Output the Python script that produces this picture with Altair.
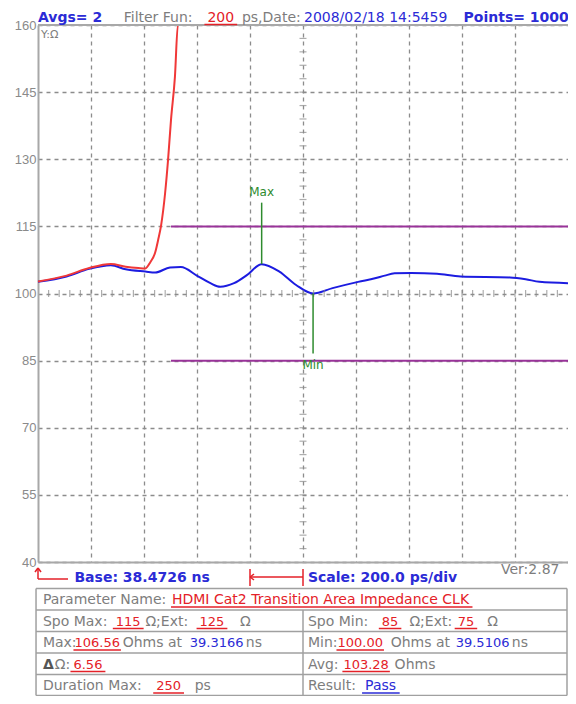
import altair as alt
import pandas as pd

# ---------------- data ----------------
BASE_NS = 38.4726          # Base: 38.4726 ns
DIV_NS = 0.2               # Scale: 200.0 ps/div
N_DIV = 10
T_END = BASE_NS + N_DIV * DIV_NS
Y_TICKS = [40, 55, 70, 85, 100, 115, 130, 145, 160]

# measured impedance (blue)
blue_t = [38.4726, 38.5804, 38.6659, 38.7477, 38.8035, 38.8778, 38.9150, 38.9707,
          39.0116, 39.0748, 39.1232, 39.1603, 39.2124, 39.2607, 39.3166, 39.3834,
          39.4466, 39.5106, 39.5841, 39.6808, 39.7440, 39.7811, 39.8183, 39.8815,
          39.9782, 40.0674, 40.2533, 40.3128, 40.3648, 40.4726]
blue_z = [102.6, 103.8, 105.5, 106.3, 105.4, 104.9, 104.7, 105.8,
          105.9, 103.9, 102.3, 101.5, 102.3, 104.1, 106.56, 104.9,
          101.9, 100.0, 101.2, 102.6, 103.4, 104.0, 104.5, 104.6,
          104.4, 103.8, 103.6, 103.2, 102.6, 102.3]

# second trace (red), clipped at the top of the screen
red_t = [38.4726, 38.5804, 38.6659, 38.7477, 38.8035, 38.8518, 38.8778, 38.8964,
         38.9150, 38.9261, 38.9373, 38.9522, 38.9633, 38.9745, 38.9893, 39.0005, 40.4726]
red_z = [102.7, 104.0, 105.7, 106.6, 106.0, 105.7, 105.6, 107.0,
         109.2, 112.0, 115.3, 122.4, 129.8, 138.8, 148.4, 160.0, 160.0]

limit_values = [115, 85]
limit_start = 38.9745

marker_t = [39.3166, 39.5106]
marker_z = [106.56, 100.00]
marker_end = [120.3, 86.6]
marker_label_z = [122.6, 84.0]
marker_labels = ["Max", "Min"]

# ---------------- style ----------------
W, H = 530, 537
OX, OY = 38, 25            # page position of plot origin
REF_W = 538                # plot width in the reference screenshot
GRAY_T = "#7d7d7d"
BLUE_T = "#2b2bd6"
RED_T = "#e42128"
GRID = "#8c8c8c"
FRAME = "#a8a8a8"
BLUE_L = "#1c1ce0"
RED_L = "#f03838"
PURPLE = "#993399"
GREEN = "#2e8b2e"
FONT = "DejaVu Sans"
FS = 14
FS_NUM = 13

xs = alt.Scale(domain=[BASE_NS, T_END], nice=False, zero=False)
ys = alt.Scale(domain=[40, 160], nice=False, zero=False)
grid_x = [round(BASE_NS + k * DIV_NS, 4) for k in range(1, N_DIV)]

x_axis = alt.Axis(values=grid_x, grid=True, gridDash=[4, 4], gridColor=GRID, gridWidth=1.3,
                  labels=False, ticks=False, domain=True, domainColor=FRAME, domainWidth=2,
                  title=None)
y_axis = alt.Axis(values=Y_TICKS, grid=True, gridDash=[4, 4], gridColor=GRID, gridWidth=1.3,
                  labelFont="Liberation Sans", labelFontSize=13, labelColor="#8a8a8a",
                  labelPadding=2, ticks=False, tickSize=0, domain=True, domainColor=FRAME,
                  domainWidth=2, title=None, labelFlush=False, labelOverlap=False)

X = alt.X("t:Q", scale=xs, axis=x_axis)
Y = alt.Y("z:Q", scale=ys, axis=y_axis)


def tx(t):
    return (t - BASE_NS) / (T_END - BASE_NS) * W


def hx(x):
    """reference page x -> plot-relative x (horizontal layout squeezed to fit)"""
    return (x - OX) * W / REF_W


# width table (em) for DejaVu Sans regular
CW = {"0": .636, "1": .636, "2": .636, "3": .636, "4": .636, "5": .636, "6": .636,
      "7": .636, "8": .636, "9": .636, ".": .318, " ": .318, "H": .752, "D": .770,
      "M": .863, "I": .295, "C": .698, "a": .613, "t": .392, "T": .611, "r": .411,
      "n": .634, "s": .521, "i": .278, "o": .612, "A": .684, "e": .615, "m": .974,
      "p": .635, "d": .635, "c": .550, "L": .557, "K": .656, "P": .603}


def tw(s, size):
    return sum(CW.get(c, .62) for c in s) * size


# ---------------- curve layers ----------------
blue = alt.Chart(pd.DataFrame({"t": blue_t, "z": blue_z})).mark_line(
    color=BLUE_L, strokeWidth=2, interpolate="monotone").encode(x=X, y=Y)
red = alt.Chart(pd.DataFrame({"t": red_t, "z": red_z})).mark_line(
    color=RED_L, strokeWidth=2, interpolate="monotone", clip=True).encode(x=X, y=Y)

minor_x = pd.DataFrame({"t": [BASE_NS + k * DIV_NS / 5 for k in range(1, N_DIV * 5)],
                        "z": [100] * (N_DIV * 5 - 1)})
ticks_h = alt.Chart(minor_x).mark_tick(orient="vertical", size=7, thickness=1.2,
                                       color=GRID).encode(x=X, y=Y)
minor_y = pd.DataFrame({"z": [40 + 3 * k for k in range(1, 40)],
                        "t": [BASE_NS + 5 * DIV_NS] * 39})
ticks_v = alt.Chart(minor_y).mark_tick(orient="horizontal", size=7, thickness=1.2,
                                       color=GRID).encode(x=X, y=Y)

limits = alt.Chart(pd.DataFrame({"t": [limit_start] * 2, "t2": [T_END] * 2,
                                 "z": limit_values})).mark_rule(
    color=PURPLE, strokeWidth=2).encode(x=X, x2="t2:Q", y=Y)

markers = alt.Chart(pd.DataFrame({"t": marker_t, "z": marker_z, "z2": marker_end})).mark_rule(
    color=GREEN, strokeWidth=1.5).encode(x=X, y=Y, y2="z2:Q")
marker_text = alt.Chart(pd.DataFrame({"t": marker_t, "z": marker_label_z,
                                      "label": marker_labels})).mark_text(
    color=GREEN, font=FONT, fontSize=12, align="center", baseline="middle").encode(
    x=X, y=Y, text="label:N")

# ---------------- texts (reference page coords) ----------------
segs = []   # (text, page_x, page_y, color, style, underline)  style: r=regular, b=bold, n=number
hy = 21.5
segs += [("Avgs= 2", 38, hy, BLUE_T, "b", False),
         ("Filter Fun:", 125, hy, GRAY_T, "r", False),
         ("200", 210, hy, RED_T, "r", True),
         ("ps,Date:", 245, hy, GRAY_T, "r", False),
         ("2008/02/18 14:5459", 308, hy, BLUE_T, "r", False),
         ("Points= 1000", 470, hy, BLUE_T, "b", False),
         ("Base: 38.4726 ns", 75, 582, BLUE_T, "b", False),
         ("Scale: 200.0 ps/div", 312, 582, BLUE_T, "b", False),
         ("Ver:2.87", 508, 574, GRAY_T, "r", False)]

row_lines = [588.5, 610, 631.5, 653, 674.5, 695.5]
rb = [y + 15.5 for y in row_lines[:-1]]
table_cells = [
    [("Parameter Name:", 43, GRAY_T, "r", False),
     ("HDMI Cat2 Transition Area Impedance CLK", 174, RED_T, "r", True)],
    [("Spo Max:", 43, GRAY_T, "r", False), ("115", 117, RED_T, "n", True),
     ("Ω;Ext:", 147, GRAY_T, "r", False), ("125", 202, RED_T, "n", True),
     ("Ω", 243, GRAY_T, "r", False),
     ("Spo Min:", 312, GRAY_T, "r", False), ("85", 387, RED_T, "n", True),
     ("Ω;Ext:", 415, GRAY_T, "r", False), ("75", 464, RED_T, "n", True),
     ("Ω", 494, GRAY_T, "r", False)],
    [("Max:", 43, GRAY_T, "r", False), ("106.56", 75, RED_T, "n", True),
     ("Ohms at", 124, GRAY_T, "r", False), ("39.3166", 192, BLUE_T, "n", False),
     ("ns", 249, GRAY_T, "r", False),
     ("Min:", 312, GRAY_T, "r", False), ("100.00", 342, RED_T, "n", True),
     ("Ohms at", 396, GRAY_T, "r", False), ("39.5106", 462, BLUE_T, "n", False),
     ("ns", 519, GRAY_T, "r", False)],
    [("Δ", 43, "#555555", "b", False), ("Ω:", 55, GRAY_T, "r", False),
     ("6.56", 74, RED_T, "n", True),
     ("Avg:", 312, GRAY_T, "r", False), ("103.28", 348, RED_T, "n", True),
     ("Ohms", 400, GRAY_T, "r", False)],
    [("Duration Max:", 43, GRAY_T, "r", False), ("250", 158, RED_T, "n", True),
     ("ps", 197, GRAY_T, "r", False),
     ("Result:", 312, GRAY_T, "r", False), ("Pass", 370, BLUE_T, "r", True)],
]
for r, cells in enumerate(table_cells):
    for (s, px, col, st, ul) in cells:
        segs.append((s, px, rb[r], col, st, ul))

txt_df = pd.DataFrame([{"px": hx(px), "py": py - OY, "text": s, "col": col, "st": st}
                       for (s, px, py, col, st, ul) in segs])
ul_rows = []
for (s, px, py, col, st, ul) in segs:
    if ul:
        size = FS_NUM if st == "n" else FS
        pad = 3 if len(s) <= 4 else 1
        ul_rows.append({"px": hx(px) - pad, "px2": hx(px) + tw(s, size) + pad,
                        "py": py - OY + 3, "py2": py - OY + 3, "col": col})

# rules: table grid + base arrow + scale bar
TB = "#a0a0a0"
L_T, R_T, MID_T = hx(36), W - 1, hx(307)
rule_rows = []
for yv in row_lines:
    rule_rows.append({"px": L_T, "px2": R_T, "py": yv - OY, "py2": yv - OY, "col": TB})
rule_rows.append({"px": L_T, "px2": L_T, "py": row_lines[0] - OY, "py2": row_lines[-1] - OY, "col": TB})
rule_rows.append({"px": R_T, "px2": R_T, "py": row_lines[0] - OY, "py2": row_lines[-1] - OY, "col": TB})
rule_rows.append({"px": MID_T, "px2": MID_T, "py": row_lines[1] - OY, "py2": row_lines[-1] - OY, "col": TB})
# base arrow
rule_rows += [{"px": 0, "px2": 0, "py": 543, "py2": 554, "col": RED_T},
              {"px": 0, "px2": 30, "py": 554, "py2": 554, "col": RED_T},
              {"px": 0, "px2": -3, "py": 543, "py2": 547, "col": RED_T},
              {"px": 0, "px2": 3, "py": 543, "py2": 547, "col": RED_T}]
# scale bar: one division
a, b = tx(BASE_NS + 4 * DIV_NS), tx(BASE_NS + 5 * DIV_NS)
rule_rows += [{"px": a, "px2": b, "py": 552, "py2": 552, "col": RED_T},
              {"px": a, "px2": a, "py": 544, "py2": 561, "col": RED_T},
              {"px": b, "px2": b, "py": 544, "py2": 561, "col": RED_T},
              {"px": a, "px2": a + 4, "py": 552, "py2": 549, "col": RED_T},
              {"px": a, "px2": a + 4, "py": 552, "py2": 555, "col": RED_T}]
rules_df = pd.DataFrame(rule_rows + ul_rows)

PX = alt.X("px:Q", scale=None, axis=None)
PY = alt.Y("py:Q", scale=None, axis=None)

rules = alt.Chart(rules_df).mark_rule(strokeWidth=1.5).encode(
    x=PX, x2="px2:Q", y=PY, y2="py2:Q", color=alt.Color("col:N", scale=None))


def text_layer(st, **kw):
    return alt.Chart(txt_df[txt_df["st"] == st]).mark_text(
        align="left", baseline="alphabetic", font=FONT, **kw).encode(
        x=PX, y=PY, text="text:N", color=alt.Color("col:N", scale=None))


txt_reg = text_layer("r", fontSize=FS)
txt_bold = text_layer("b", fontSize=FS, fontWeight="bold")
txt_num = text_layer("n", fontSize=FS_NUM)

frame_top = alt.Chart(pd.DataFrame({"a": [0]})).mark_rule(color=FRAME, strokeWidth=2).encode(
    x=alt.value(0), x2=alt.value(W), y=alt.value(0))
yomega = alt.Chart(pd.DataFrame({"a": [0]})).mark_text(
    text="Y:Ω", align="left", baseline="top", font=FONT, fontSize=11, color=GRAY_T).encode(
    x=alt.value(3), y=alt.value(4))

chart = alt.layer(
    blue, ticks_h, ticks_v, limits, red, markers, marker_text, frame_top, yomega,
    rules, txt_reg, txt_bold, txt_num
).properties(
    width=W, height=H,
    padding={"left": 30, "top": 17, "right": 0, "bottom": 134},
    autosize=alt.AutoSizeParams(type="none"),
    background="white",
).configure_view(stroke=None)

chart.save("out.html", embed_options={"renderer": "svg", "actions": False})
